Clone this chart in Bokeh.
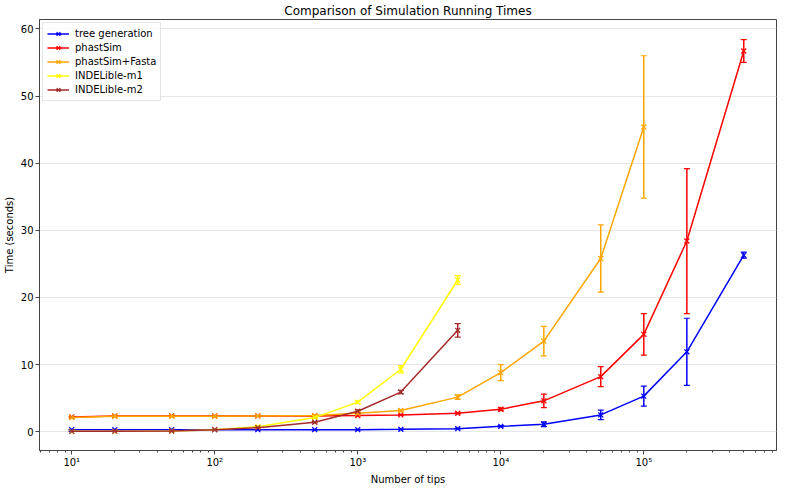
import numpy as np
from bokeh.plotting import figure
from bokeh.models import (ColumnDataSource, Whisker, TeeHead, Legend, LegendItem,
                          CustomJSTickFormatter, Range1d, SingleIntervalTicker)
from bokeh.embed import file_html
from bokeh.resources import INLINE

tips = [10, 20, 50, 100, 200, 500, 1000, 2000, 5000, 10000, 20000, 50000, 100000, 200000, 500000]

tree_mean = [0.3, 0.3, 0.3, 0.3, 0.3, 0.3, 0.3, 0.35, 0.45, 0.8, 1.1, 2.5, 5.3, 11.9, 26.3]
tree_err = [0.02, 0.02, 0.02, 0.02, 0.02, 0.03, 0.03, 0.03, 0.05, 0.1, 0.35, 0.7, 1.5, 5.0, 0.45]

phast_mean = [2.2, 2.35, 2.35, 2.35, 2.35, 2.35, 2.4, 2.5, 2.75, 3.35, 4.6, 8.2, 14.5, 28.4, 56.7]
phast_err = [0.05, 0.05, 0.05, 0.05, 0.05, 0.05, 0.05, 0.05, 0.1, 0.2, 1.0, 1.5, 3.1, 10.8, 1.7]

fasta_mean = [2.1, 2.3, 2.3, 2.3, 2.35, 2.4, 2.75, 3.15, 5.15, 8.8, 13.5, 25.8, 45.4]
fasta_err = [0.05, 0.05, 0.05, 0.05, 0.05, 0.1, 0.1, 0.15, 0.35, 1.2, 2.2, 5.0, 10.6]

m1_mean = [0.05, 0.05, 0.1, 0.3, 0.75, 2.1, 4.4, 9.3, 22.6]
m1_err = [0.01, 0.01, 0.01, 0.02, 0.05, 0.1, 0.2, 0.55, 0.65]

m2_mean = [0.05, 0.05, 0.1, 0.3, 0.6, 1.4, 3.05, 5.9, 15.1]
m2_err = [0.01, 0.01, 0.01, 0.02, 0.05, 0.1, 0.2, 0.25, 1.0]

series = [
    ("tree generation", "blue", tree_mean, tree_err),
    ("phastSim", "red", phast_mean, phast_err),
    ("phastSim+Fasta", "orange", fasta_mean, fasta_err),
    ("INDELible-m1", "yellow", m1_mean, m1_err),
    ("INDELible-m2", "brown", m2_mean, m2_err),
]

FONT = "DejaVu Sans"

p = figure(width=777, height=487, x_axis_type="log",
           x_range=Range1d(5.95, 8.47e5), y_range=Range1d(-2.8, 61.4),
           output_backend="svg", toolbar_location=None,
           title="Comparison of Simulation Running Times",
           min_border_left=0, min_border_right=1, min_border_top=0, min_border_bottom=0)

p.title.align = "center"
p.title.text_font = FONT
p.title.text_font_size = "12px"
p.title.text_font_style = "normal"
p.title.text_color = "black"
p.title.standoff = 3
p.title.offset = 0

p.outline_line_color = "#444444"
p.outline_line_width = 1

p.xgrid.grid_line_color = None
p.ygrid.grid_line_color = "#e6e6e6"
p.ygrid.grid_line_width = 1
p.ygrid.ticker = SingleIntervalTicker(interval=10)

for ax in (p.xaxis[0], p.yaxis[0]):
    ax.axis_line_color = "#444444"
    ax.major_tick_line_color = "#444444"
    ax.minor_tick_line_color = "#444444"
    ax.major_tick_out = 4
    ax.major_tick_in = 0
    ax.minor_tick_out = 2
    ax.minor_tick_in = 0
    ax.major_label_text_font = FONT
    ax.major_label_text_font_size = "10px"
    ax.major_label_text_color = "black"
    ax.axis_label_text_font = FONT
    ax.axis_label_text_font_size = "10px"
    ax.axis_label_text_font_style = "normal"
    ax.axis_label_text_color = "black"
    ax.major_label_standoff = 2
    ax.axis_label_standoff = 3

p.xaxis.axis_label = "Number of tips"
p.yaxis.axis_label = "Time (seconds)"
p.yaxis.ticker = SingleIntervalTicker(interval=10)
p.yaxis.minor_tick_line_color = None
p.xaxis.formatter = CustomJSTickFormatter(code="""
const sup = {'0':'\u2070','1':'\u00b9','2':'\u00b2','3':'\u00b3','4':'\u2074','5':'\u2075','6':'\u2076','7':'\u2077','8':'\u2078','9':'\u2079','-':'\u207b'};
const e = Math.round(Math.log10(tick)).toString();
let s = '';
for (const c of e) s += sup[c];
return '10' + s;
""")

items = []
for name, color, mean, err in series:
    n = len(mean)
    xs = tips[:n]
    src = ColumnDataSource(dict(x=xs, y=mean,
                                lo=[m - e for m, e in zip(mean, err)],
                                hi=[m + e for m, e in zip(mean, err)]))
    ln = p.line("x", "y", source=src, line_color=color, line_width=1.5)
    w = Whisker(base="x", upper="hi", lower="lo", source=src, dimension="height",
                line_color=color, line_width=1.5,
                upper_head=TeeHead(size=6, line_color=color, line_width=1.2),
                lower_head=TeeHead(size=6, line_color=color, line_width=1.2))
    p.add_layout(w)
    sc = p.scatter("x", "y", source=src, marker="x", size=7, line_color=color, line_width=1.3)
    leg_src = ColumnDataSource(dict(x=[np.nan], y=[np.nan]))
    vb = p.scatter("x", "y", source=leg_src, marker="dash", angle=np.pi / 2, size=12,
                   line_color=color, line_width=1.5)
    items.append(LegendItem(label=name, renderers=[ln, vb, sc]))

legend = Legend(items=items, location="top_left")
legend.label_text_font = FONT
legend.label_text_font_size = "10px"
legend.label_text_color = "black"
legend.glyph_width = 22
legend.glyph_height = 13
legend.label_height = 13
legend.spacing = 1
legend.padding = 4
legend.margin = 3
legend.label_standoff = 6
legend.border_line_color = "#cccccc"
legend.border_line_width = 1
legend.background_fill_color = "white"
legend.background_fill_alpha = 0.8
p.add_layout(legend, "center")

open("out.html", "w").write(file_html(p, INLINE))
